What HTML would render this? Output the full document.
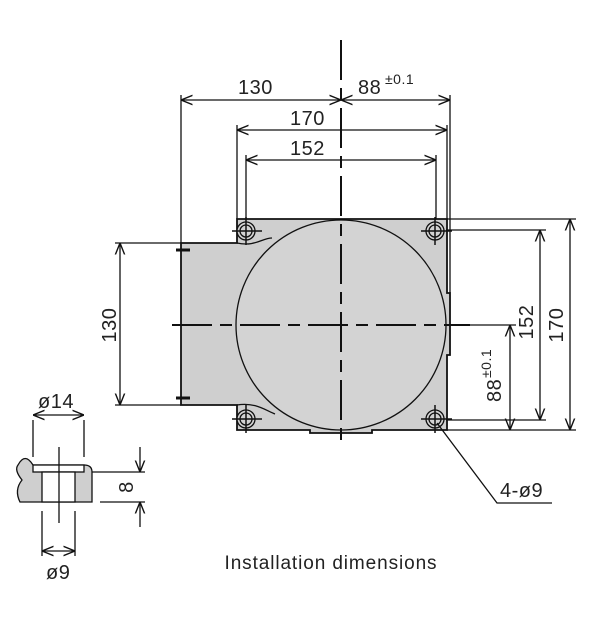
<!DOCTYPE html><html><head><style>body{margin:0;background:#fff}svg{display:block}text{font-family:"Liberation Sans",sans-serif;fill:#222}</style></head><body>
<svg width="600" height="626" viewBox="0 0 600 626" xmlns="http://www.w3.org/2000/svg">
<defs><marker id="a" viewBox="0 0 10 10" refX="10" refY="5" markerWidth="9" markerHeight="9" orient="auto-start-reverse"><path d="M0,1 L10,5 L0,9" fill="none" stroke="#111" stroke-width="1.2"/></marker></defs>
<g stroke="#111" fill="none" stroke-width="1.3">
<path d="M237,219 H447 V293 H450 V355 H447 V430 H372 V433 H310 V430 H237 V405 H181 V243 H237 Z" fill="#cfcfcf" stroke-width="1.8"/>
<circle cx="341" cy="325" r="105" fill="#d3d3d3"/>
<path d="M237,243 C255,247 262,238 272,238"/>
<path d="M237,405 C255,402 265,410 275,414"/>
<g fill="#d3d3d3"><circle cx="246" cy="231" r="9"/><circle cx="246" cy="231" r="6"/><circle cx="435" cy="231" r="9"/><circle cx="435" cy="231" r="6"/><circle cx="246" cy="419" r="9"/><circle cx="246" cy="419" r="6"/><circle cx="435" cy="419" r="9"/><circle cx="435" cy="419" r="6"/></g>
<g stroke-width="1.5"><path d="M232,231H262M246,217V245M421,231H452M435,217V245M232,419H262M246,405V433M421,419H452M435,405V433"/></g>
<g stroke-width="2"><path d="M341,40V440" stroke-dasharray="40,8,12,8"/><path d="M172,325H470" stroke-dasharray="40,8,12,8"/></g>
<path d="M181,95V243M450,95V293M237,125V219M447,125V219M246,155V219M436,155V219"/>
<path d="M115,243H181M115,405H181M447,219H576M446,230H546M446,420H546M447,430H576M455,325H516"/>
<path d="M176,250H190M176,398H190" stroke-width="3"/>
<g marker-start="url(#a)" marker-end="url(#a)">
<path d="M181,100H341"/><path d="M341,100H450"/><path d="M237,130H447"/><path d="M246,160H436"/>
<path d="M120,243V405"/><path d="M570,219V430"/><path d="M540,230V420"/><path d="M510,325V430"/>
<path d="M33,415H84"/><path d="M42,551H75"/>
</g>
<path d="M437,423 L497,503 H552"/>
<path d="M18,465 Q25,452 33,465 H84 Q92,465 92,472 V502 H20 Q14,490 22,480 Q14,470 18,465Z" fill="#cfcfcf"/>
<rect x="33" y="465" width="51" height="7" fill="#fff"/>
<rect x="42" y="472" width="33" height="30" fill="#fff"/>
<path d="M59,447V523M33,420V457M84,420V457M42,511V556M75,511V556M92,472H145M100,502H145"/>
<path d="M140,447V472" marker-end="url(#a)"/><path d="M140,527V502" marker-end="url(#a)"/>
</g>
<g font-size="20" letter-spacing="0.5">
<text x="238" y="94">130</text><text x="358" y="94">88</text><text x="385" y="84" font-size="14">±0.1</text>
<text x="290" y="125">170</text><text x="290" y="155">152</text>
<text x="38" y="408">ø14</text><text x="46" y="579">ø9</text>
<text x="500" y="497">4-ø9</text>
<text transform="translate(116,325) rotate(-90)" text-anchor="middle">130</text>
<text transform="translate(563,325) rotate(-90)" text-anchor="middle">170</text>
<text transform="translate(533,322) rotate(-90)" text-anchor="middle">152</text>
<text transform="translate(501,402) rotate(-90)" text-anchor="start">88</text>
<text transform="translate(491,378) rotate(-90)" font-size="14">±0.1</text>
<text transform="translate(133,487) rotate(-90)" text-anchor="middle">8</text>
<text x="331" y="569" text-anchor="middle" fill="#333" font-size="19" letter-spacing="0.9">Installation dimensions</text>
</g>
</svg></body></html>
